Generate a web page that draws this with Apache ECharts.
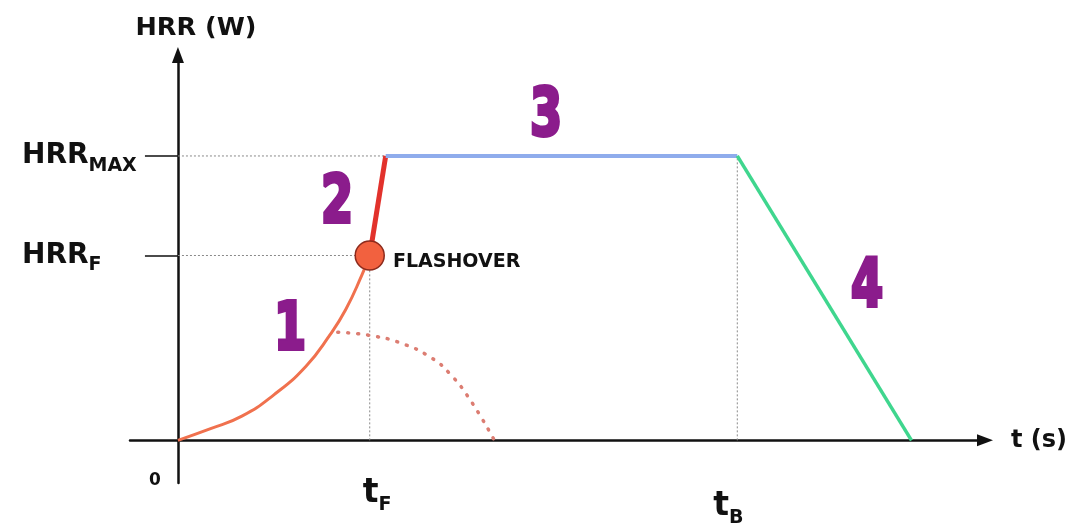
<!DOCTYPE html>
<html>
<head>
<meta charset="utf-8">
<script src="https://cdn.jsdelivr.net/npm/echarts@6/dist/echarts.min.js"></script>
<style>
  html, body { margin: 0; padding: 0; background: #ffffff; }
  #chart { width: 1074px; height: 524px; }
</style>
</head>
<body>
<div id="chart"></div>
<script>
// ---- data ----
// Phase 1: fire growth curve (time units, HRR in % of HRR_MAX)
const growthT   = [0, 2, 4, 6, 8, 9.5, 10.5, 11.5, 12];
const growthHRR = [0, 4, 8.5, 16, 26, 37, 46, 58, 65];
// key instants / levels
const tF = 12;          // flashover time
const tFullyDev = 13;   // time HRR_MAX is reached
const tB = 35;          // start of decay
const tEnd = 45.9;      // fire extinguished
const hrrF = 65;        // HRR at flashover
const hrrMax = 100;     // maximum HRR
// Phase 2 (flashover rise), 3 (steady), 4 (decay)
const flashT = [tF, tFullyDev];        const flashHRR = [hrrF, hrrMax];
const steadyT = [tFullyDev, tB];       const steadyHRR = [hrrMax, hrrMax];
const decayT = [tB, tEnd];             const decayHRR = [hrrMax, 0];
// no-flashover (dotted) branch
const noFlashT   = [10, 12, 14, 15.8, 17, 18.3, 19.8];
const noFlashHRR = [38, 36.9, 34.1, 29.2, 23.5, 14.1, 0];
// tick labels: [main text, subscript]
const yTickLabels = [['HRR', 'MAX'], ['HRR', 'F']];   // at hrrMax, hrrF
const xTickLabels = [['0', ''], ['t', 'F'], ['t', 'B']]; // at 0, tF, tB
const phaseLabels = ['1', '2', '3', '4'];
const flashoverLabel = 'FLASHOVER';

const zip = (xs, ys) => xs.map((x, i) => [x, ys[i]]);
const FONT = '"DejaVu Sans", sans-serif';
const guideStyle = { color: '#8a8a8a', width: 1, type: [2, 2] };
const purple = '#8b1c8c';
const K = 0.28; // baseline offset of middle-aligned text (em)

const chart = echarts.init(document.getElementById('chart'), null, { renderer: 'canvas' });

const option = {
  backgroundColor: '#ffffff',
  animation: false,
  grid: { left: 130, right: 89, top: 55, bottom: 41, containLabel: false, outerBoundsMode: 'none' },
  xAxis: {
    type: 'value', min: -3, max: 50.5,
    name: 't (s)', nameLocation: 'end', nameGap: 26,
    nameTextStyle: { fontFamily: FONT, fontWeight: 'bold', fontSize: 24, color: '#111', verticalAlign: 'middle' },
    splitLine: { show: false },
    axisLine: { onZero: true, symbol: ['none', 'triangle'], symbolSize: [12, 16],
                lineStyle: { color: '#111', width: 2.5 } },
    axisTick: { show: false },
    axisLabel: { show: false }
  },
  yAxis: {
    type: 'value', min: -15, max: 135.5,
    name: 'HRR (W)', nameLocation: 'end', nameGap: 14,
    nameTextStyle: { fontFamily: FONT, fontWeight: 'bold', fontSize: 25.5, color: '#111', padding: [0, 0, 0, 36] },
    splitLine: { show: false },
    axisLine: { onZero: true, symbol: ['none', 'triangle'], symbolSize: [12, 16],
                lineStyle: { color: '#111', width: 2.5 } },
    axisTick: { show: true, customValues: [hrrF, hrrMax], length: 33, inside: false,
                lineStyle: { color: '#111', width: 1.5 } },
    axisLabel: { show: false }
  },
  series: [
    // dotted guide lines
    { type: 'line', data: [[0, hrrMax], [tFullyDev, hrrMax]], symbol: 'none', lineStyle: guideStyle, silent: true, z: 1 },
    { type: 'line', data: [[0, hrrF], [tF, hrrF]], symbol: 'none', lineStyle: guideStyle, silent: true, z: 1 },
    { type: 'line', data: [[tF, 0], [tF, hrrF]], symbol: 'none', lineStyle: guideStyle, silent: true, z: 1 },
    { type: 'line', data: [[tB, 0], [tB, hrrMax]], symbol: 'none', lineStyle: guideStyle, silent: true, z: 1 },
    // no-flashover branch (dotted)
    { type: 'line', data: zip(noFlashT, noFlashHRR), smooth: true, symbol: 'none', z: 2,
      lineStyle: { color: '#dc7d72', width: 3.5, type: [1, 9], cap: 'round' } },
    // phase 1 growth
    { type: 'line', data: zip(growthT, growthHRR), smooth: true, symbol: 'none', z: 3,
      lineStyle: { color: '#f0714e', width: 3 } },
    // phase 2 flashover
    { type: 'line', data: zip(flashT, flashHRR), symbol: 'none', z: 3,
      lineStyle: { color: '#e2322c', width: 5 } },
    // phase 3 fully developed
    { type: 'line', data: zip(steadyT, steadyHRR), symbol: 'none', z: 3,
      lineStyle: { color: '#8facec', width: 4 } },
    // phase 4 decay
    { type: 'line', data: zip(decayT, decayHRR), symbol: 'none', z: 3,
      lineStyle: { color: '#3fd68e', width: 3.5 } },
    // flashover point
    { type: 'scatter', data: [[tF, hrrF]], symbol: 'circle', symbolSize: 29, z: 5,
      itemStyle: { color: '#f2613f', borderColor: '#8c2a1c', borderWidth: 1.5, opacity: 1 },
      label: { show: true, position: 'right', distance: 8, offset: [0, 7], formatter: flashoverLabel,
               fontFamily: FONT, fontWeight: 'bold', fontSize: 19, color: '#111111', opacity: 1 } }
  ]
};
chart.setOption(option);

// ---- text annotations placed through the chart's own scales ----
const measureCtx = document.createElement('canvas').getContext('2d');
function textWidth(txt, size) {
  measureCtx.font = 'bold ' + size + 'px ' + FONT;
  return measureCtx.measureText(txt).width;
}
function txt(id, text, x, baseline, size, align) {
  return {
    type: 'text', id: id, x: x, y: baseline - K * size, z: 60,
    style: { text: text, font: 'bold ' + size + 'px ' + FONT, fill: '#111',
             align: align || 'left', verticalAlign: 'middle',
             textAlign: align || 'left', textVerticalAlign: 'middle' }
  };
}
function phaseText(id, t, x, y) {
  return {
    type: 'text', id: id, x: x, y: y, scaleX: 0.7, z: 50,
    style: {
      text: t, font: 'bold 66px ' + FONT,
      fill: purple, stroke: purple, lineWidth: 4, lineJoin: 'round',
      align: 'center', verticalAlign: 'middle',
      textAlign: 'center', textVerticalAlign: 'middle'
    }
  };
}
const px = (x, y) => chart.convertToPixel({ gridIndex: 0 }, [x, y]);
const g = [];
// y tick labels (left aligned, 156px left of the axis)
[[hrrMax, yTickLabels[0]], [hrrF, yTickLabels[1]]].forEach(([v, lab], i) => {
  const p = px(0, v);
  const x0 = p[0] - 156;
  g.push(txt('ym' + i, lab[0], x0, p[1] + 8, 28));
  g.push(txt('ys' + i, lab[1], x0 + textWidth(lab[0], 28), p[1] + 15, 19));
});
// x tick labels
{
  const p0 = px(0, 0);
  g.push(txt('x0', xTickLabels[0][0], p0[0] - 23, p0[1] + 45, 17, 'center'));
  const pF = px(tF, 0);
  g.push(txt('xFm', xTickLabels[1][0], pF[0] - 7, pF[1] + 62, 33));
  g.push(txt('xFs', xTickLabels[1][1], pF[0] - 7 + textWidth(xTickLabels[1][0], 33), pF[1] + 70, 19));
  const pB = px(tB, 0);
  g.push(txt('xBm', xTickLabels[2][0], pB[0] - 24, pB[1] + 75, 33));
  g.push(txt('xBs', xTickLabels[2][1], pB[0] - 24 + textWidth(xTickLabels[2][0], 33), pB[1] + 83, 19));
}
// phase numbers
g.push(phaseText('p1', phaseLabels[0], 290, 332));
g.push(phaseText('p2', phaseLabels[1], 337, 205));
g.push(phaseText('p3', phaseLabels[2], 546, 118));
g.push(phaseText('p4', phaseLabels[3], 867, 289));
chart.setOption({ graphic: g });
</script>
</body>
</html>
